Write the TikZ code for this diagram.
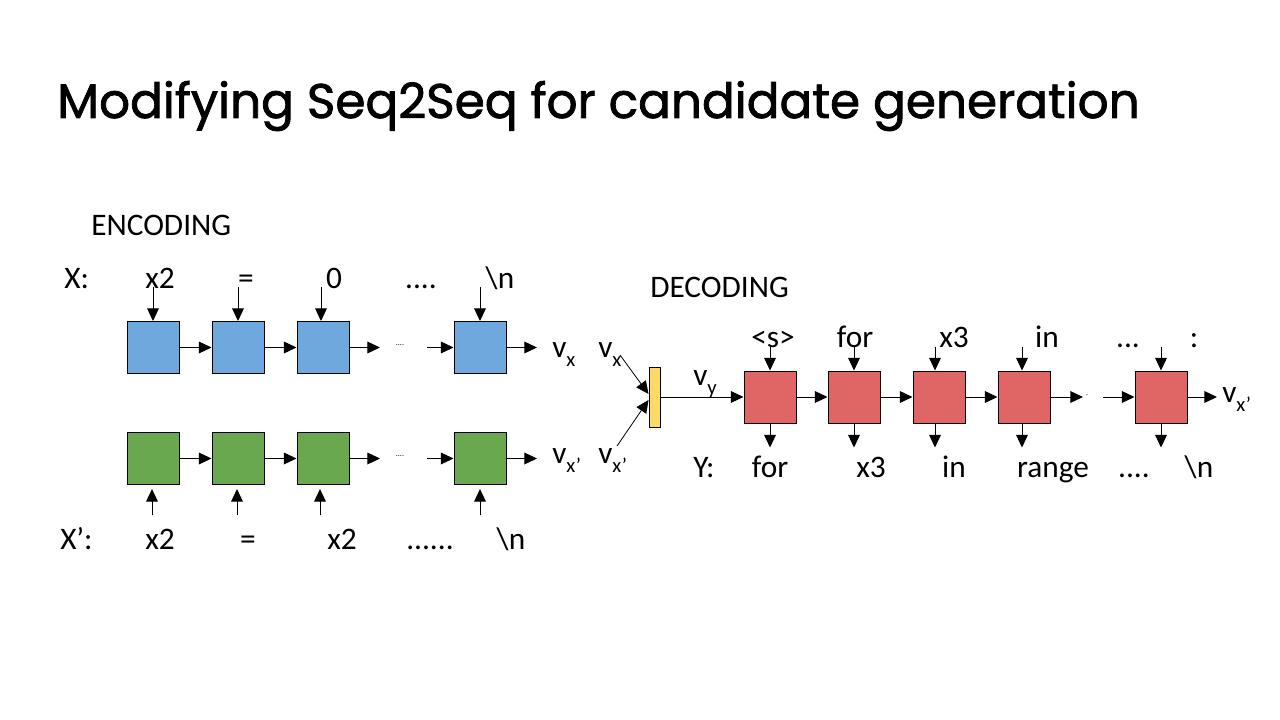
\documentclass[tikz,border=0pt]{standalone}
\usepackage{fontspec}
\setmainfont{Carlito}
\newfontfamily\titlefont[BoldFont={Poppins},BoldFeatures={FakeBold=1.6}]{Poppins}
\usetikzlibrary{arrows.meta}
\definecolor{encblue}{HTML}{6FA8DC}
\definecolor{encgreen}{HTML}{6AA84F}
\definecolor{decred}{HTML}{E06666}
\definecolor{baryellow}{HTML}{FFD966}
\newcommand\vsub[1]{v\raisebox{-0.3em}{\fontsize{15.5}{15.5}\selectfont #1}}
\begin{document}
\begin{tikzpicture}[x=0.75pt,y=-0.75pt,
  cell/.style={draw=black, line width=0.75pt, minimum size=39pt, inner sep=0pt},
  arr/.style={-{Triangle[length=9.5pt,width=8.8pt]}, line width=0.75pt},
  thin line/.style={line width=0.6pt},
  lbl/.style={anchor=base, inner sep=0pt, font=\fontsize{23.5}{28}\selectfont},
  lblw/.style={anchor=base west, inner sep=0pt, font=\fontsize{23.5}{28}\selectfont},
  tinydots/.style={inner sep=0pt, font=\fontsize{6}{6}\selectfont}]
\useasboundingbox (0,0) rectangle (1280,720);
\fill[white] (0,0) rectangle (1280,720);

% title
\node[anchor=base west, inner sep=0pt, font=\titlefont\bfseries\fontsize{36.4}{40}\selectfont] (title) at (57,118) {Modifying Seq2Seq for candidate generation};

% section labels
\node[lblw] (enc) at (91,236) {ENCODING};
\node[lblw] (dec) at (650,297) {DECODING};

% encoder top row
\node[cell, fill=encblue] (b1) at (153,347.5) {};
\node[cell, fill=encblue] (b2) at (238,347.5) {};
\node[cell, fill=encblue] (b3) at (323,347.5) {};
\node[cell, fill=encblue] (b4) at (480,347.5) {};
\coordinate (bA1) at (380,347.5);
\coordinate (bA2) at (427,347.5);
\coordinate (bOut) at (537,347.5);
\node[tinydots] (bdots) at (400,345.5) {....};

\node[lblw] (Xl) at (64,288) {X:};
\node[lbl] (x1) at (160,288) {x2};
\node[lbl] (x2) at (246,288) {=};
\node[lbl] (x3) at (334,288) {0};
\node[lbl] (x4) at (421,288) {....};
\node[lbl] (x5) at (500,288) {\textbackslash n};

\draw[arr] ([yshift=25.5pt]b1.north) -- (b1.north);
\draw[arr] ([yshift=25.5pt]b2.north) -- (b2.north);
\draw[arr] ([xshift=-1.5pt,yshift=25.5pt]b3.north) -- ([xshift=-1.5pt]b3.north);
\draw[arr] ([yshift=25.5pt]b4.north) -- (b4.north);
\draw[arr] (b1.east) -- (b2.west);
\draw[arr] (b2.east) -- (b3.west);
\draw[arr] (b3.east) -- (bA1);
\draw[arr] (bA2) -- (b4.west);
\draw[arr] (b4.east) -- (bOut);
\node[lblw] (vx1) at (552,357) {\vsub{x}};

% encoder bottom row
\node[cell, fill=encgreen] (g1) at (153,458.5) {};
\node[cell, fill=encgreen] (g2) at (238,458.5) {};
\node[cell, fill=encgreen] (g3) at (323,458.5) {};
\node[cell, fill=encgreen] (g4) at (480,458.5) {};
\coordinate (gA1) at (380,458.5);
\coordinate (gA2) at (427,458.5);
\coordinate (gOut) at (537,458.5);
\node[tinydots] (gdots) at (400,456.5) {....};

\node[lblw] (Xpl) at (60,549) {X’:};
\node[lbl] (y1) at (160,549) {x2};
\node[lbl] (y2) at (248,549) {=};
\node[lbl] (y3) at (342,549) {x2};
\node[lbl] (y4) at (430,549) {......};
\node[lbl] (y5) at (511,549) {\textbackslash n};

\draw[arr] ([xshift=-0.75pt,yshift=-22.5pt]g1.south) -- ([xshift=-0.75pt,yshift=-3pt]g1.south);
\draw[arr] ([xshift=-0.75pt,yshift=-22.5pt]g2.south) -- ([xshift=-0.75pt,yshift=-3pt]g2.south);
\draw[arr] ([xshift=-2.25pt,yshift=-22.5pt]g3.south) -- ([xshift=-2.25pt,yshift=-3pt]g3.south);
\draw[arr] ([yshift=-22.5pt]g4.south) -- ([yshift=-3pt]g4.south);
\draw[arr] (g1.east) -- (g2.west);
\draw[arr] (g2.east) -- (g3.west);
\draw[arr] (g3.east) -- (gA1);
\draw[arr] (gA2) -- (g4.west);
\draw[arr] (g4.east) -- (gOut);
\node[lblw] (vxp1) at (552,463) {\vsub{x’}};

% merge
\node[lblw] (vx2) at (598,357) {\vsub{x}};
\node[lblw] (vxp2) at (598,463) {\vsub{x’}};
\coordinate (m1) at (620,355);
\coordinate (m2) at (617,446);
\node[draw=black, line width=0.75pt, fill=baryellow, minimum width=8.25pt, minimum height=45pt, inner sep=0pt] (bar) at (654.5,397) {};
\draw[arr, thin line] (m1) -- ([yshift=2.25pt]bar.west);
\draw[arr, thin line] (m2) -- ([yshift=-2.25pt]bar.west);

% decoder
\node[cell, fill=decred] (r1) at (770,397) {};
\node[cell, fill=decred] (r2) at (854,397) {};
\node[cell, fill=decred] (r3) at (939,397) {};
\node[cell, fill=decred] (r4) at (1024,397) {};
\node[cell, fill=decred] (r5) at (1161,397) {};
\coordinate (rA1) at (1083,397);
\coordinate (rA2) at (1103,397);
\coordinate (rOut) at (1217,397);
\node[tinydots] (rdot) at (1087,395) {.};

\draw[arr, thin line] (bar.east) -- (r1.west);
\node[lbl] (vy) at (705,385) {\vsub{y}};

\draw[arr] (r1.east) -- (r2.west);
\draw[arr] (r2.east) -- (r3.west);
\draw[arr] (r3.east) -- (r4.west);
\draw[arr] (r4.east) -- (rA1);
\draw[arr] (rA2) -- (r5.west);
\draw[arr] (r5.east) -- (rOut);
\node[lblw] (vxp3) at (1222,402) {\vsub{x’}};

\node[lbl] (t1) at (773,347) {\textless s\textgreater};
\node[lbl] (t2) at (855,347) {for};
\node[lbl] (t3) at (954,347) {x3};
\node[lbl] (t4) at (1047,347) {in};
\node[lbl] (t5) at (1128,347) {...};
\node[lbl] (t6) at (1194,347) {:};

\draw[arr] ([yshift=18pt]r1.north) -- (r1.north);
\draw[arr] ([yshift=18pt]r2.north) -- (r2.north);
\draw[arr] ([xshift=-3pt,yshift=18pt]r3.north) -- ([xshift=-3pt]r3.north);
\draw[arr] ([xshift=-1.5pt,yshift=18pt]r4.north) -- ([xshift=-1.5pt]r4.north);
\draw[arr] ([yshift=18pt]r5.north) -- (r5.north);

\draw[arr] (r1.south) -- ([yshift=-18pt]r1.south);
\draw[arr] (r2.south) -- ([yshift=-18pt]r2.south);
\draw[arr] ([xshift=-3pt]r3.south) -- ([xshift=-3pt,yshift=-18pt]r3.south);
\draw[arr] ([xshift=-1.5pt]r4.south) -- ([xshift=-1.5pt,yshift=-18pt]r4.south);
\draw[arr] (r5.south) -- ([yshift=-18pt]r5.south);

\node[lblw] (Yl) at (693,477) {Y:};
\node[lbl] (o1) at (770,477) {for};
\node[lbl] (o2) at (871,477) {x3};
\node[lbl] (o3) at (954,477) {in};
\node[lbl] (o4) at (1053,477) {range};
\node[lbl] (o5) at (1134,477) {....};
\node[lbl] (o6) at (1199,477) {\textbackslash n};
\end{tikzpicture}
\end{document}
